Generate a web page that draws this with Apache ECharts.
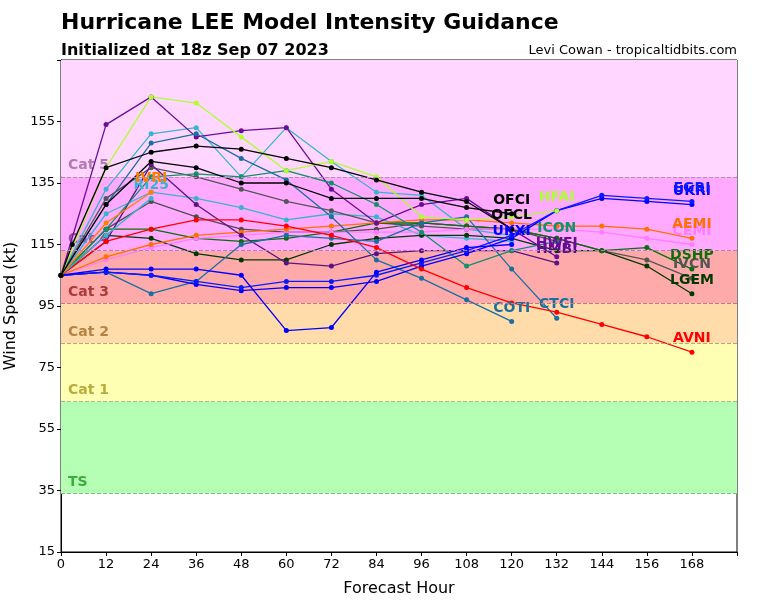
<!DOCTYPE html>
<html>
<head>
<meta charset="utf-8">
<script src="https://cdn.jsdelivr.net/npm/echarts@6/dist/echarts.min.js"></script>
<style>
  html, body { margin: 0; padding: 0; background: #fff; }
  #chart { width: 768px; height: 600px; }
</style>
</head>
<body>
<div id="chart"></div>
<script>
// forecast hours
const hours = [0, 12, 24, 36, 48, 60, 72, 84, 96, 108, 120, 132, 144, 156, 168];
const ofclHours = [0, 3, 12, 24, 36, 48, 60, 72, 84, 96, 108, 120];
const xTicks = [0, 12, 24, 36, 48, 60, 72, 84, 96, 108, 120, 132, 144, 156, 168];
const yTicks = [15, 35, 55, 75, 95, 115, 135, 155];

// model intensities (kt)
const ofcl = [105, 115, 140, 145, 147, 146, 143, 140, 136, 132, 129, 120];
const ofci = [105, 128, 142, 140, 135, 135, 130, 130, 130, 127, 125];
const hfai = [105, 140, 163, 161, 150, 139, 142, 137, 124, 123, 124, 126];
const hwfi = [105, 154, 163, 150, 152, 153, 133, 122, 128, 130, 120, 111];
const hmbi = [105, 116, 141, 128, 118, 109, 108, 112, 113, 113, 113, 109];
const avni = [105, 116, 120, 123, 123, 121, 118, 114, 107, 101, 96, 93, 89, 85, 80];
const aemi = [105, 111, 115, 118, 119, 120, 121, 122, 123, 123, 122, 121, 121, 120, 117];
const cemi = [105, 110, 114, 117, 118, 119, 119, 119, 119, 120, 120, 120, 119, 117, 115];
const egri = [105, 106, 105, 103, 101, 103, 103, 105, 109, 113, 118, 126, 131, 130, 129];
const ukri = [105, 106, 105, 102, 100, 101, 101, 103, 108, 112, 117, 126, 130, 129, 128];
const ukxi = [105, 107, 107, 107, 105, 87, 88, 106, 110, 114, 115];
const coti = [105, 128, 148, 151, 143, 136, 124, 110, 104, 97, 90];
const ctci = [105, 106, 99, 103, 115, 118, 117, 116, 122, 124, 107, 91];
const icon = [105, 120, 137, 138, 137, 139, 135, 128, 119, 108, 113, 116];
const dshp = [105, 120, 120, 117, 116, 117, 119, 122, 122, 121, 120, 117, 113, 114, 107];
const lgem = [105, 118, 117, 112, 110, 110, 115, 117, 118, 118, 117, 113, 113, 108, 99];
const ivcn = [105, 130, 140, 137, 133, 129, 126, 122, 121, 120, 120, 117, 113, 110, 104];
const ivdr = [105, 120, 129, 124, 120, 119, 119, 120, 122, 121, 120, 116];
const ivri = [105, 122, 132];
const ri25 = [105, 118, 130];
const hmni = [105, 133, 151, 153, 137, 153, 142, 132, 131, 120, 118];
const ri30 = [105, 125, 132, 130, 127, 123, 125, 124, 118, 117, 116];

// Saffir-Simpson bands
const catNames = ['TS', 'Cat 1', 'Cat 2', 'Cat 3', 'Cat 4', 'Cat 5'];
const catLow = [34, 64, 83, 96, 113, 137];
const catHigh = [64, 83, 96, 113, 137, 175];
const catFill = ['#b4ffb4', '#ffffb4', '#ffdcaa', '#ffaaaa', '#ffaaff', '#ffd6ff'];
const catText = ['#3faa3f', '#b8ac3a', '#b48446', '#a83a3a', '#9a4aa8', '#b27ab2'];
const catLine = ['#8cb48c', '#b4b48c', '#c4a07c', '#c87878', '#b87cb8', '#b48cb4'];

const FONT = 'DejaVu Sans';

function modelLine(name, hrs, vals, color, withLabel) {
  let data = vals.map((v, i) => [hrs[i], v]);
  if (withLabel !== false) {
    let last = data[data.length - 1];
    data[data.length - 1] = {
      value: last,
      label: {
        show: true, position: 'top', distance: 4, formatter: name,
        color: color, fontWeight: 'bold', fontSize: 14, fontFamily: FONT
      }
    };
  }
  return {
    type: 'line', name: name, data: data,
    symbol: 'circle', symbolSize: 5,
    lineStyle: { width: 1.3, color: color },
    itemStyle: { color: color },
    labelLayout: { hideOverlap: false },
    z: 3
  };
}

let bandSeries = {
  type: 'line', data: [], silent: true, z: 1,
  markArea: {
    silent: true,
    data: catNames.map((n, i) => [
      {
        yAxis: catLow[i],
        itemStyle: { color: catFill[i] },
        label: {
          show: true, formatter: n, position: 'insideBottomLeft', distance: 4,
          offset: [3, 0],
          color: catText[i], fontWeight: 'bold', fontSize: 14, fontFamily: FONT
        }
      },
      { yAxis: catHigh[i] }
    ])
  },
  markLine: {
    silent: true, symbol: 'none',
    label: { show: false },
    data: catLow.map((v, i) => ({
      yAxis: v,
      lineStyle: { color: catLine[i], type: [4, 2], width: 1.2 }
    }))
  }
};

let series = [
  bandSeries,
  modelLine('IVDR', hours, ivdr, '#4d4d4d', false),
  modelLine('HMNI', hours, hmni, '#3ab4cc', false),
  modelLine('RI30', hours, ri30, '#3ab4cc', false),
  modelLine('IVCN', hours, ivcn, '#555555'),
  modelLine('LGEM', hours, lgem, '#003a00'),
  modelLine('DSHP', hours, dshp, '#0a6e0a'),
  modelLine('CEMI', hours, cemi, '#ff7cff'),
  modelLine('AEMI', hours, aemi, '#ff7000'),
  modelLine('HMBI', hours, hmbi, '#5a1482'),
  modelLine('HWFI', hours, hwfi, '#6a0c96'),
  modelLine('ICON', hours, icon, '#11916a'),
  modelLine('CTCI', hours, ctci, '#1b6fa0'),
  modelLine('COTI', hours, coti, '#1b6fa0'),
  modelLine('UKRI', hours, ukri, '#0000ff'),
  modelLine('EGRI', hours, egri, '#0a1aff'),
  modelLine('UKXI', hours, ukxi, '#0000ff'),
  modelLine('AVNI', hours, avni, '#ff0000'),
  modelLine('HFAI', hours, hfai, '#adff2f'),
  modelLine('RI25', hours, ri25, '#3ab4cc'),
  modelLine('IVRI', hours, ivri, '#ff7f00'),
  modelLine('OFCI', hours, ofci, '#000000'),
  modelLine('OFCL', ofclHours, ofcl, '#000000')
];

let chart = echarts.init(document.getElementById('chart'), null, { renderer: 'canvas' });

let option = {
  animation: false,
  backgroundColor: '#ffffff',
  textStyle: { fontFamily: FONT },
  title: [
    {
      text: 'Hurricane LEE Model Intensity Guidance',
      left: 56, top: 7,
      textStyle: { fontFamily: FONT, fontWeight: 'bold', fontSize: 22, color: '#000' }
    },
    {
      text: 'Initialized at 18z Sep 07 2023',
      left: 56, top: 38,
      textStyle: { fontFamily: FONT, fontWeight: 'bold', fontSize: 16, color: '#000' }
    },
    {
      text: 'Levi Cowan - tropicaltidbits.com',
      right: 26, top: 39,
      textStyle: { fontFamily: FONT, fontWeight: 'normal', fontSize: 13, color: '#000' }
    }
  ],
  grid: {
    left: 61, right: 31, top: 60, bottom: 48,
    outerBoundsMode: 'none', containLabel: false,
    show: true, borderColor: '#000', borderWidth: 1, backgroundColor: 'transparent'
  },
  xAxis: {
    type: 'value', min: 0, max: 180, interval: 12,
    name: 'Forecast Hour', nameLocation: 'middle', nameGap: 29,
    nameTextStyle: { fontFamily: FONT, fontSize: 16, color: '#000' },
    axisLine: { lineStyle: { color: '#000' } },
    axisTick: { show: true, length: 4, lineStyle: { color: '#000' } },
    axisLabel: {
      fontFamily: FONT, fontSize: 13, color: '#000', margin: 6,
      formatter: v => (xTicks.indexOf(v) >= 0 ? String(v) : '')
    },
    splitLine: { show: false }
  },
  yAxis: {
    type: 'value', min: 15, max: 175, interval: 20,
    name: 'Wind Speed (kt)', nameLocation: 'middle', nameGap: 38,
    nameTextStyle: { fontFamily: FONT, fontSize: 16, color: '#000' },
    axisLine: { show: true, lineStyle: { color: '#000' } },
    axisTick: { show: true, length: 4, lineStyle: { color: '#000' } },
    axisLabel: {
      fontFamily: FONT, fontSize: 13, color: '#000', margin: 6,
      formatter: v => (yTicks.indexOf(v) >= 0 ? String(v) : '')
    },
    splitLine: { show: false }
  },
  series: series
};

chart.setOption(option);
</script>
</body>
</html>
